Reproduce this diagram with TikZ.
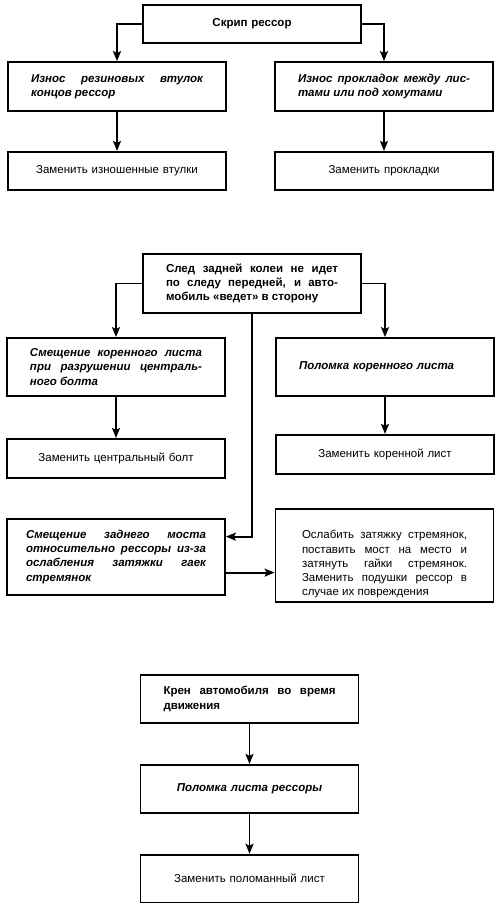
\documentclass[tikz,border=0pt]{standalone}
\usepackage{fontspec}
\setmainfont{Liberation Sans}
\usetikzlibrary{arrows.meta,positioning}

\newcommand\boxfont{\fontsize{11.5pt}{14.3pt}\selectfont}

\begin{document}
\begin{tikzpicture}[x=1pt, y=-1pt, >={Stealth[length=10pt,width=8pt,inset=2pt]}, line width=1.8pt,
  box/.style={draw, minimum width=218pt, inner sep=0pt, text width=172pt},
  fault/.style={box, font=\boxfont\bfseries},
  cause/.style={box, align=justify, font=\boxfont\bfseries\itshape},
  remedy/.style={box, align=center, font=\boxfont}]
  \useasboundingbox (0,0) rectangle (500,903);

  % creaking springs
  \node[fault, align=center, minimum height=38pt] (creak) at (252,24) {Скрип рессор};
  \node[cause, minimum height=49pt] (wear1) at (117,86.5) {Износ резиновых втулок\linebreak концов рессор};
  \node[cause, minimum height=49pt] (wear2) at (384,86.5) {Износ прокладок между лис-\linebreak тами или под хомутами};
  \node[remedy, minimum height=38pt, below=39pt of wear1] (fix1) {Заменить изношенные втулки};
  \node[remedy, minimum height=38pt, below=39pt of wear2] (fix2) {Заменить прокладки};

  \draw[->] (creak.west) -| (wear1.north);
  \draw[->] (creak.east) -| (wear2.north);
  \draw[->] (wear1) -- (fix1);
  \draw[->] (wear2) -- (fix2);

  % rear track off
  \node[fault, align=justify, minimum height=59pt] (track) at (252,283.5) {След задней колеи не идет\linebreak по следу передней, и авто-\linebreak мобиль «ведет» в сторону};
  \node[cause, minimum height=58pt] (shift1) at (116,367) {Смещение коренного листа\linebreak при разрушении централь-\linebreak ного болта};
  \node[cause, align=left, minimum height=58pt] (break1) at (385,367) {Поломка коренного листа};
  \node[remedy, minimum height=39pt, below=41pt of shift1] (fix3) {Заменить центральный болт};
  \node[remedy, minimum height=39pt, below=37pt of break1] (fix4) {Заменить коренной лист};
  \node[cause, text width=180pt, minimum height=76pt, below=39pt of fix3] (shift2) {Смещение заднего моста\linebreak относительно рессоры из-за\linebreak ослабления затяжки гаек\linebreak стремянок};
  \node[remedy, align=justify, text width=165pt, minimum height=93pt] (fix5) at (384.5,555.5) {\rule{0pt}{26pt}Ослабить затяжку стремянок,\linebreak поставить мост на место и\linebreak затянуть гайки стремянок.\linebreak Заменить подушки рессор в\linebreak случае их повреждения};

  \draw[->] (track.west) -| (shift1.north);
  \draw[->] (track.east) -| (break1.north);
  \draw[->] (shift1) -- (fix3);
  \draw[->] (break1) -- (fix4);
  \coordinate (shiftin) at ([yshift=20pt]shift2.east);
  \draw[->] (track.south) |- (shiftin);
  \coordinate (shiftout) at ([yshift=-16pt]shift2.east);
  \draw[->] (shiftout) -- (shiftout -| fix5.west);

  % body roll
  \node[fault, align=justify, minimum height=48pt] (roll) at (249.5,699) {Крен автомобиля во время\linebreak движения};
  \node[cause, align=center, minimum height=48pt, below=40pt of roll] (break2) {Поломка листа рессоры};
  \node[remedy, minimum height=48pt, below=40pt of break2] (fix6) {Заменить поломанный лист};

  \draw[->] (roll) -- (break2);
  \draw[->] (break2) -- (fix6);
\end{tikzpicture}
\end{document}
